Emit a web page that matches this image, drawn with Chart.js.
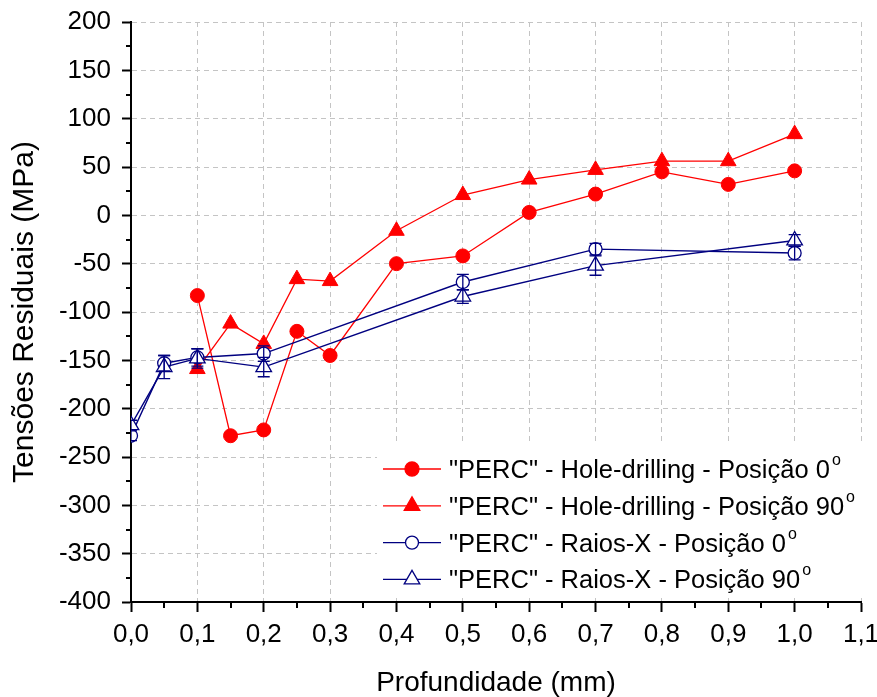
<!DOCTYPE html>
<html>
<head>
<meta charset="utf-8">
<script src="https://cdn.jsdelivr.net/npm/chart.js@4.4.1/dist/chart.umd.min.js"></script>
<style>
html, body { margin: 0; padding: 0; background: #fff; }
#wrap { width: 877px; height: 697px; }
</style>
</head>
<body>
<div id="wrap"><canvas id="tensoesChart" width="877" height="697"></canvas></div>
<script>
// profundidade (mm) e tensões (MPa)
const depthHD = [0.1, 0.15, 0.2, 0.25, 0.3, 0.4, 0.5, 0.6, 0.7, 0.8, 0.9, 1.0];
const hd0 = [-83, -228, -222, -120, -145, -50, -42, 3, 22, 45, 32, 46];
const hd90 = [-159, -112, -133, -66, -68, -16, 21, 37, 47, 56, 56, 84];

const depthRX = [0, 0.05, 0.1, 0.2, 0.5, 0.7, 1.0];
const rx0 = [-228, -153, -147, -143, -69, -35, -39];
const rx0Err = [5, 8, 9, 8, 8, 6, 7];
const rx90 = [-217, -157, -148, -157, -84, -52, -26];
const rx90Err = [5, 12, 10, 10, 7, 10, 6];

const legendLabels = [
    '"PERC" - Hole-drilling - Posição 0',
    '"PERC" - Hole-drilling - Posição 90',
    '"PERC" - Raios-X - Posição 0',
    '"PERC" - Raios-X - Posição 90'
];

const RED = '#ff0000';
const BLUE = '#000080';
const FONT = '"Liberation Sans", Arial, sans-serif';

Chart.defaults.font.family = FONT;
Chart.defaults.color = '#000';

function pts(xs, ys) {
    return xs.map(function(x, i) { return { x: x, y: ys[i] }; });
}

function marker(ctx, style, filled, color, x, y, r) {
    ctx.beginPath();
    if (style === 'triangle') {
        ctx.moveTo(x, y - r);
        ctx.lineTo(x + r * 0.866, y + r * 0.5);
        ctx.lineTo(x - r * 0.866, y + r * 0.5);
        ctx.closePath();
    } else {
        ctx.arc(x, y, r, 0, Math.PI * 2);
    }
    ctx.fillStyle = filled ? color : '#fff';
    ctx.fill();
    ctx.strokeStyle = color;
    ctx.lineWidth = 1.3;
    ctx.stroke();
}

// pequenos traços entre as marcas principais
const minorTicks = {
    id: 'minorTicks',
    afterDraw(chart) {
        const ctx = chart.ctx, a = chart.chartArea;
        const x = chart.scales.x, y = chart.scales.y;
        ctx.save();
        ctx.strokeStyle = '#000';
        ctx.lineWidth = 2;
        ctx.beginPath();
        for (let v = -375; v < 200; v += 50) {
            const py = Math.round(y.getPixelForValue(v));
            ctx.moveTo(a.left, py);
            ctx.lineTo(a.left - 5, py);
        }
        for (let k = 0; k < 11; k++) {
            const px = Math.round(x.getPixelForValue(0.05 + k * 0.1));
            ctx.moveTo(px, a.bottom);
            ctx.lineTo(px, a.bottom + 6);
        }
        ctx.stroke();
        ctx.restore();
    }
};

// barras de erro dos pontos de raios-X
const errorBars = {
    id: 'errorBars',
    afterDatasetsDraw(chart) {
        const ctx = chart.ctx, a = chart.chartArea, y = chart.scales.y;
        ctx.save();
        ctx.beginPath();
        ctx.rect(a.left, a.top - 20, a.right - a.left + 20, a.bottom - a.top + 40);
        ctx.clip();
        chart.data.datasets.forEach(function(ds, i) {
            if (!ds.errors) return;
            const meta = chart.getDatasetMeta(i);
            ctx.strokeStyle = ds.borderColor;
            ctx.lineWidth = 1.3;
            meta.data.forEach(function(p, j) {
                const v = ds.data[j].y, e = ds.errors[j];
                const top = y.getPixelForValue(v + e);
                const bot = y.getPixelForValue(v - e);
                ctx.beginPath();
                ctx.moveTo(p.x, top); ctx.lineTo(p.x, bot);
                ctx.moveTo(p.x - 6, top); ctx.lineTo(p.x + 6, top);
                ctx.moveTo(p.x - 6, bot); ctx.lineTo(p.x + 6, bot);
                ctx.stroke();
            });
        });
        ctx.restore();
    }
};

// legenda dentro do gráfico, canto inferior direito
const boxLegend = {
    id: 'boxLegend',
    afterDatasetsDraw(chart) {
        const ctx = chart.ctx, a = chart.chartArea;
        const left = a.left + 246, top = a.top + 420;
        ctx.save();
        ctx.fillStyle = '#fff';
        ctx.fillRect(left, top, 495, 155);
        chart.data.datasets.forEach(function(ds, i) {
            const cy = top + 27 + i * 36.8;
            ctx.strokeStyle = ds.borderColor;
            ctx.lineWidth = 1.3;
            ctx.beginPath();
            ctx.moveTo(left + 6, cy);
            ctx.lineTo(left + 64, cy);
            ctx.stroke();
            marker(ctx, ds.pointStyle, ds.pointBackgroundColor !== '#fff', ds.borderColor,
                left + 35, cy, ds.pointRadius);
            ctx.fillStyle = '#000';
            ctx.textBaseline = 'alphabetic';
            ctx.textAlign = 'left';
            ctx.font = '25.5px ' + FONT;
            ctx.fillText(legendLabels[i], left + 72, cy + 9);
            const w = ctx.measureText(legendLabels[i]).width;
            ctx.font = '16px ' + FONT;
            ctx.fillText('o', left + 72 + w + 2, cy - 4);
        });
        ctx.restore();
    }
};

const ctx = document.getElementById('tensoesChart').getContext('2d');
new Chart(ctx, {
    type: 'line',
    data: {
        datasets: [{
            label: legendLabels[0],
            data: pts(depthHD, hd0),
            borderColor: RED,
            backgroundColor: RED,
            pointBackgroundColor: RED,
            pointBorderColor: RED,
            borderWidth: 1.3,
            pointStyle: 'circle',
            pointRadius: 7,
            pointBorderWidth: 1,
            order: 3
        }, {
            label: legendLabels[1],
            data: pts(depthHD, hd90),
            borderColor: RED,
            backgroundColor: RED,
            pointBackgroundColor: RED,
            pointBorderColor: RED,
            borderWidth: 1.3,
            pointStyle: 'triangle',
            pointRadius: 9,
            pointBorderWidth: 1,
            order: 2
        }, {
            label: legendLabels[2],
            data: pts(depthRX, rx0),
            errors: rx0Err,
            borderColor: BLUE,
            backgroundColor: BLUE,
            pointBackgroundColor: '#fff',
            pointBorderColor: BLUE,
            borderWidth: 1.4,
            pointStyle: 'circle',
            pointRadius: 6.5,
            pointBorderWidth: 1.3,
            order: 1
        }, {
            label: legendLabels[3],
            data: pts(depthRX, rx90),
            errors: rx90Err,
            borderColor: BLUE,
            backgroundColor: BLUE,
            pointBackgroundColor: '#fff',
            pointBorderColor: BLUE,
            borderWidth: 1.4,
            pointStyle: 'triangle',
            pointRadius: 9,
            pointBorderWidth: 1.3,
            order: 0
        }]
    },
    options: {
        responsive: false,
        animation: false,
        events: [],
        layout: { padding: { top: 22, right: 16, bottom: 0, left: 0 } },
        elements: { line: { tension: 0, fill: false } },
        datasets: { line: { clip: { left: 0, top: 12, right: 12, bottom: 12 } } },
        plugins: {
            legend: { display: false },
            tooltip: { enabled: false }
        },
        scales: {
            x: {
                type: 'linear',
                min: 0,
                max: 1.1,
                afterFit: function(scale) {
                    scale.height = 95;
                    scale.paddingLeft = 0;
                    scale.paddingRight = 0;
                },
                ticks: {
                    stepSize: 0.1,
                    padding: 7,
                    font: { size: 26 },
                    callback: function(v) { return v.toFixed(1).replace('.', ','); }
                },
                grid: { color: '#c4c4c4', lineWidth: 1, tickColor: '#000', tickWidth: 2, tickLength: 10 },
                border: { display: true, color: '#000', width: 2, dash: [5, 4] },
                title: {
                    display: true,
                    text: 'Profundidade (mm)',
                    font: { size: 28, lineHeight: 1 },
                    padding: { top: 0, bottom: 0 }
                }
            },
            y: {
                min: -400,
                max: 200,
                afterFit: function(scale) {
                    scale.width = 131;
                    scale.paddingTop = 0;
                    scale.paddingBottom = 0;
                },
                ticks: {
                    stepSize: 50,
                    padding: 11,
                    font: { size: 26 }
                },
                grid: { color: '#c4c4c4', lineWidth: 1, tickColor: '#000', tickWidth: 2, tickLength: 9 },
                border: { display: true, color: '#000', width: 2, dash: [5, 4] },
                title: {
                    display: true,
                    text: 'Tensões Residuais (MPa)',
                    font: { size: 30, lineHeight: 1 },
                    padding: { top: 10, bottom: 0 }
                }
            }
        }
    },
    plugins: [minorTicks, errorBars, boxLegend]
});
</script>
</body>
</html>
